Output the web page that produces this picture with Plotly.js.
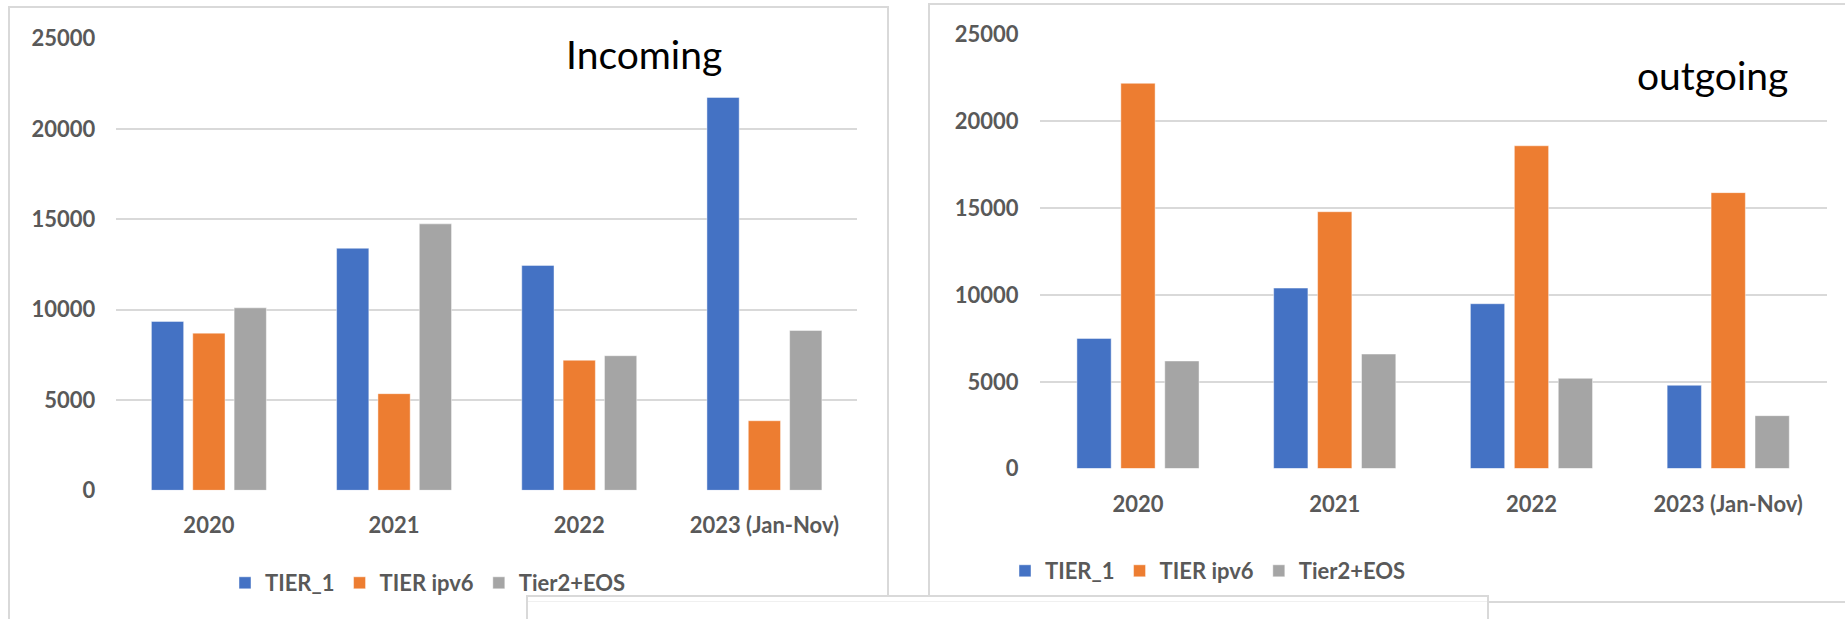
<!DOCTYPE html>
<html>
<head>
<meta charset="utf-8">
<script src="https://cdn.plot.ly/plotly-3.0.1.min.js"></script>
<style>html,body{margin:0;padding:0;background:#fff;}#chart{width:1845px;height:619px;}</style>
</head>
<body>
<div id="chart"></div>
<script>
// Categories
const categories = ["2020", "2021", "2022", "2023 (Jan-Nov)"];
const seriesNames = ["TIER_1", "TIER ipv6", "Tier2+EOS"];

// Incoming (left chart)
const incomingTier1 = [9350, 13400, 12450, 21750];
const incomingIpv6 = [8700, 5350, 7200, 3850];
const incomingTier2Eos = [10100, 14750, 7450, 8850];

// Outgoing (right chart)
const outgoingTier1 = [7500, 10400, 9500, 4800];
const outgoingIpv6 = [22200, 14800, 18600, 15900];
const outgoingTier2Eos = [6200, 6600, 5200, 3050];

const yTicks = [0, 5000, 10000, 15000, 20000, 25000];

const colors = ["#4472C4", "#ED7D31", "#A5A5A5"];
const W = 1845, H = 619;
const px = x => x / W;
const py = y => (H - y) / H;

const fontFam = "Lato, 'Open Sans', sans-serif";
const tickFont = {family: fontFam, size: 22, color: "#595959", weight: "bold"};

function mkTrace(vals, i, xa, ya, leg) {
  return {
    type: "bar", x: categories, y: vals, name: seriesNames[i],
    xaxis: xa, yaxis: ya, legend: leg,
    marker: {color: colors[i], line: {color: "rgba(255,255,255,0.45)", width: 1}},
    hoverinfo: "x+y+name"
  };
}

const data = [
  mkTrace(incomingTier1, 0, "x", "y", "legend"),
  mkTrace(incomingIpv6, 1, "x", "y", "legend"),
  mkTrace(incomingTier2Eos, 2, "x", "y", "legend"),
  mkTrace(outgoingTier1, 0, "x2", "y2", "legend2"),
  mkTrace(outgoingIpv6, 1, "x2", "y2", "legend2"),
  mkTrace(outgoingTier2Eos, 2, "x2", "y2", "legend2")
];

const yBase = {
  range: [0, 25000], tickvals: yTicks, ticktext: yTicks.map(String),
  showgrid: true, gridcolor: "#D9D9D9", gridwidth: 2,
  zeroline: false, showline: false, ticks: "", ticklabelstandoff: 20,
  tickfont: tickFont, fixedrange: true
};
const xBase = {
  type: "category", showgrid: false, zeroline: false, showline: false,
  ticks: "", ticklabelstandoff: 20, tickfont: tickFont, fixedrange: true
};

const frameLine = {color: "#D9D9D9", width: 2};

const layout = {
  width: W, height: H,
  margin: {l: 0, r: 0, t: 0, b: 0},
  paper_bgcolor: "#ffffff", plot_bgcolor: "rgba(0,0,0,0)",
  barmode: "group", bargap: 0.33, bargroupgap: 0.22,
  xaxis: Object.assign({}, xBase, {domain: [px(116.3), px(857)], anchor: "y"}),
  yaxis: Object.assign({}, yBase, {domain: [py(490.3), py(38.7)], anchor: "x"}),
  xaxis2: Object.assign({}, xBase, {domain: [px(1039.6), px(1826.6)], anchor: "y2"}),
  yaxis2: Object.assign({}, yBase, {domain: [py(468.6), py(34.7)], anchor: "x2"}),
  legend: {
    orientation: "h", x: px(225), xanchor: "left", y: py(583), yanchor: "middle",
    font: tickFont, bgcolor: "rgba(0,0,0,0)", borderwidth: 0
  },
  legend2: {
    orientation: "h", x: px(1005), xanchor: "left", y: py(571), yanchor: "middle",
    font: tickFont, bgcolor: "rgba(0,0,0,0)", borderwidth: 0
  },
  annotations: [
    {text: "Incoming", xref: "paper", yref: "paper", x: px(643.5), y: py(54), xanchor: "center", yanchor: "middle",
     showarrow: false, font: {family: fontFam, size: 39, color: "#000000"}},
    {text: "outgoing", xref: "paper", yref: "paper", x: px(1712), y: py(75), xanchor: "center", yanchor: "middle",
     showarrow: false, font: {family: fontFam, size: 39, color: "#000000"}}
  ],
  shapes: [
    {type: "rect", xref: "paper", yref: "paper", x0: px(9), x1: px(888), y0: py(660), y1: py(7), line: frameLine, fillcolor: "rgba(0,0,0,0)"},
    {type: "rect", xref: "paper", yref: "paper", x0: px(929), x1: px(1870), y0: py(602), y1: py(4), line: frameLine, fillcolor: "rgba(0,0,0,0)"},
    {type: "rect", xref: "paper", yref: "paper", x0: px(527), x1: px(1488), y0: py(660), y1: py(596), line: frameLine, fillcolor: "#ffffff"},
    {type: "line", xref: "paper", yref: "paper", x0: px(528), x1: px(1487), y0: py(601.5), y1: py(601.5), line: {color: "#F0F0F0", width: 1}}
  ]
};

Plotly.newPlot("chart", data, layout, {displayModeBar: false, staticPlot: true});
</script>
</body>
</html>
